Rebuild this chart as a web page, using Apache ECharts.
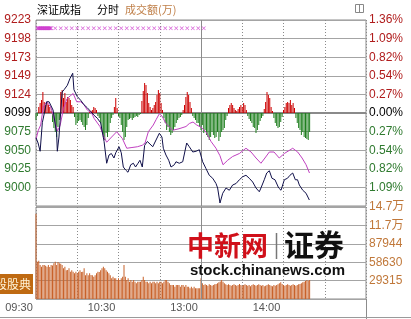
<!DOCTYPE html>
<html><head><meta charset="utf-8">
<script src="https://cdn.jsdelivr.net/npm/echarts@6/dist/echarts.min.js"></script>
<style>html,body{margin:0;padding:0;background:#fff}#c{width:411px;height:319px}</style>
</head><body><div id="c"></div>
<script>
// ---- data ----
const PREV_CLOSE = 9099;           // 0.00% line
const leftTicks  = ['', '9000','9025','9050','9075','9099','9124','9149','9173','9198','9223'];
const pctTicks   = ['', '1.09%','0.82%','0.54%','0.27%','0.00%','0.27%','0.54%','0.82%','1.09%','1.36%'];
const volTicks   = ['', '29315','58630','87944','11.7万','14.7万'];
const timeLabels = {0:'09:30', 60:'10:30', 120:'13:00', 180:'14:00'};

// index line: [minute since 09:30 (lunch removed), value]
const priceLine = [[0,9066],[1.5,9059],[3,9048],[4.6,9086],[7.8,9114],[9.5,9114],[12.4,9103],[15,9072],[15.5,9048],[16.7,9067],
 [19,9127],[20.4,9130],[22.8,9136],[24.7,9145],[26.7,9152],[27.6,9130],[30,9121],[32.5,9116],[34.9,9110],[37.3,9106],
 [39.8,9101],[42.2,9096],[44.6,9092],[47,9086],[49.5,9061],[51.4,9032],[53.1,9043],[54.8,9045],[56.7,9039],[58,9046],
 [60.4,9054],[62,9046],[63.5,9027],[65.2,9023],[66.9,9020],[68.9,9030],[70.8,9032],[72.4,9027],[74.2,9032],[75.6,9036],
 [77.3,9027],[79,9056],[81,9061],[82.4,9059],[84.9,9054],[87.3,9063],[89.7,9072],[91.6,9067],[92.6,9052],[94.5,9043],
 [96.5,9036],[98.2,9027],[100.6,9030],[101.8,9034],[104.2,9032],[106.7,9034],[108,9036],[109.6,9059],[111.5,9054],[114,9047],
 [116.4,9048],[118.8,9050],[121.2,9034],[123.6,9025],[126,9016],[128.5,9012],[130.9,9005],[132.1,8999],[133.8,8979],[135.8,8992],
 [138.2,8999],[140.6,8996],[143,9003],[145.5,9005],[147.9,9010],[150.3,9014],[152.7,9016],[155.1,9012],[157.6,9007],[160,8999],
 [162.4,8994],[163.6,8999],[166,9010],[167.8,9019],[169.7,9022],[171.6,9012],[173.8,9010],[176.5,8999],[178.2,8996],[180.6,9010],
 [182.9,9012],[184.7,9016],[186.7,9019],[188.6,9010],[190.2,9010],[191.5,9003],[194,8996],[196.4,8992],[198.8,8983]];

// average line
const avgLine = [[0,9064],[1.7,9076],[3.4,9083],[5.3,9107],[7.8,9114],[10.7,9107],[13.1,9092],[15.6,9075],[17.5,9082],[20,9105],
 [22.5,9118],[25,9122],[27,9125],[29.6,9114],[32.5,9114],[34.9,9110],[37.3,9103],[40.5,9099],[42.2,9092],[46.5,9081],
 [49.5,9067],[51.4,9060],[55,9067],[58.7,9074],[62.8,9065],[66,9052],[69.8,9053],[73.7,9054],[77.3,9056],[79.3,9059],
 [81.7,9074],[85.3,9083],[87.3,9090],[89.7,9098],[91.6,9095],[94.5,9085],[99.4,9076],[104,9078],[109.1,9081],[111.5,9085],
 [114.2,9087],[116.9,9083],[120,9080],[123.6,9074],[127.3,9061],[130.9,9052],[133.8,9042],[136,9030],[139.4,9036],[143,9041],
 [147.9,9045],[152.7,9052],[156.4,9047],[160,9039],[163.6,9032],[166.5,9039],[169.7,9047],[173.1,9047],[176.9,9039],[180.6,9045],
 [186.7,9052],[190.3,9047],[193.5,9039],[196.4,9030],[198.9,9019]];

// red / green strength bars, one per minute (relative units, +-93 full scale)
const leadDiff = [
 -7,-3,6,10,13,21,11,8,10,8, 6,2,-9,-15,-19,-24,-14,-7,21,23,
 15,20,11,16,15,13,8,6,-4,-12, -10,-8,-7,-9,-12,-14,-17,-12,-5,1,
 2,3,6,5,3,-3,-5,-10,-19,-24, -27,-20,-24,-19,-10,-5,-2,6,15,5,
 -3,-5,-12,-19,-27,-24,-14,-7,-6,-5, -7,-5,-4,-3,-4,-2,-1,12,22,30,
 28,20,10,6,3,5,8,11,18,23, 20,10,3,-5,-10,-17,-14,-19,-22,-20,
 -17,-14,-10,-7,-5,-4,-2,3,8,16, 21,18,11,5,-3,-5,-7,-10,-10,-14,
 -17,-12,-20,-17,-22,-24,-27,-24,-19,-22, -25,-24,-19,-28,-24,-19,-17,-15,-7,-3,
 5,8,10,8,5,3,2,4,6,8, 6,10,8,3,-3,-6,-8,-10,-14,-15,
 -20,-17,-12,-8,-5,-3,4,11,21,18, 15,6,2,-5,-10,-13,-15,-14,-9,-4,
 3,6,10,11,10,13,8,10,5,-5, -10,-15,-17,-22,-19,-24,-25,-26,-27,-19];
const LEAD_RANGE = 93;

// turnover per minute
const volume = [
 136000,59500,61000,54200,51500,54200,54000,53000,51500,54000,
 51000,54000,53500,56800,59500,54000,59000,57000,56000,54000,
 48900,51500,46000,46200,49000,43500,46000,43500,41000,43500,
 41000,43500,46000,43000,43500,49000,38000,41000,38000,41000,
 38200,38000,35600,38000,41000,43500,43000,46000,49000,51500,
 49000,46000,43500,41000,38000,33000,35600,33000,33000,30300,
 33000,30300,32900,35600,54000,35600,30300,32900,27600,30300,
 27600,30300,27600,25000,27600,27600,27600,30300,35600,30300,
 27600,27600,25000,27600,25000,27600,27600,25000,27600,25000,
 27600,27600,25000,27600,30300,30300,27600,25000,22300,22300,
 22300,19600,22300,22300,22300,19600,22300,22300,19600,22300,
 19600,19600,17000,19600,17000,19600,17000,17000,17000,17000,
 33000,25000,22300,23500,22300,21000,23500,22300,21000,22300,
 23500,24000,25000,26500,28000,30300,27600,25000,23500,22300,
 23500,22300,21000,22300,23500,22300,21000,22300,24000,22300,
 21000,22300,23500,22300,21000,22300,20500,22300,23500,22300,
 21000,22300,23500,22300,21000,22300,20500,21000,22300,23500,
 22300,21000,20500,22300,21000,22300,23500,25000,26500,24000,
 22300,21000,22300,23500,22300,21000,22300,23500,22300,21000,
 22300,23500,24000,25000,26500,27600,28500,30300,29000,30300];
const VOL_MAX = 146574, VOL_STEP = 29314.8;

// magenta cross markers row
const markMinutes = [1,1.5,2,2.5,3,3.5,4,4.5,5,5.5,6,6.5,7,7.5,8,8.5,9,9.5,10,10.5,11,
 14,18,22,26,30,34,38,42,46,50,54,58,62,66,70,74,78,82,86,90,94,98,102,106,110,114,118,122];
const MARK_LEVEL = 9212;

// ---- chart ----
const FONT = '"Liberation Sans", Arial, "Noto Sans CJK SC", sans-serif';
const RED = '#b01c1c', GREEN = '#2f7a2f', ORANGE = '#c0783a';
const chart = echarts.init(document.getElementById('c'), null, {renderer:'canvas'});
const crossPath = 'path://M0,1L1,0L5,4L9,0L10,1L6,5L10,9L9,10L5,6L1,10L0,9L4,5Z';

const xBase = {type:'value', min:0, max:240, interval:30,
  axisLine:{show:false}, axisTick:{show:false},
  splitLine:{show:true, lineStyle:{color:'#8a8a8a', type:[1,2], width:1}}};

chart.setOption({
  animation:false,
  grid:[
    {left:36, top:20, width:330, height:186, show:true, borderColor:'#8c8c8c', borderWidth:1, backgroundColor:'transparent'},
    {left:36, top:207, width:330, height:92, show:true, borderColor:'#8c8c8c', borderWidth:1, backgroundColor:'transparent'}
  ],
  xAxis:[
    Object.assign({}, xBase, {gridIndex:0, axisLabel:{show:false}}),
    Object.assign({}, xBase, {gridIndex:1, axisLabel:{show:true, margin:3, fontSize:11, color:'#555', fontFamily:FONT,
      padding:[0,34,0,0], align:'center', showMinLabel:true, showMaxLabel:true,
      formatter:v => timeLabels[v] || ''}})
  ],
  yAxis:[
    {type:'value', gridIndex:0, position:'left', min:-124, max:124, interval:24.8,
     axisLine:{show:false}, axisTick:{show:false},
     splitLine:{show:true, lineStyle:{color:'#a4a4a4', width:1}},
     axisLabel:{margin:5, fontSize:12, fontFamily:FONT, showMinLabel:true, showMaxLabel:true,
       formatter:(v)=>leftTicks[Math.round(v/24.8)+5] || '',
       color:(v)=> v>0.01 ? RED : (v<-0.01 ? GREEN : '#000')}},
    {type:'value', gridIndex:0, position:'right', min:-124, max:124, interval:24.8,
     axisLine:{show:false}, axisTick:{show:false}, splitLine:{show:false},
     axisLabel:{margin:3, fontSize:12, fontFamily:FONT, showMinLabel:true, showMaxLabel:true,
       formatter:(v)=>pctTicks[Math.round(v/24.8)+5] || '',
       color:(v)=> v>0.01 ? RED : (v<-0.01 ? GREEN : '#000')}},
    {type:'value', gridIndex:0, min:-LEAD_RANGE, max:LEAD_RANGE, show:false},
    {type:'value', gridIndex:1, position:'left', min:0, max:VOL_MAX, interval:VOL_STEP,
     axisLine:{show:false}, axisTick:{show:false}, axisLabel:{show:false},
     splitLine:{show:true, lineStyle:{color:'#a4a4a4', width:1}}},
    {type:'value', gridIndex:1, position:'right', min:0, max:VOL_MAX, interval:VOL_STEP,
     axisLine:{show:false}, axisTick:{show:false}, splitLine:{show:false},
     axisLabel:{margin:3, fontSize:12, fontFamily:FONT, color:ORANGE, showMinLabel:true, showMaxLabel:true,
       formatter:(v)=>volTicks[Math.round(v/VOL_STEP)] || ''}}
  ],
  series:[
    {type:'bar', xAxisIndex:0, yAxisIndex:2, barWidth:1, z:2,
     data:leadDiff.map((v,i)=>[i,v]),
     itemStyle:{color:p=> p.value[1]>=0 ? '#cc0000' : '#1f7f1f'}},
    {type:'line', xAxisIndex:0, yAxisIndex:0, z:4, symbol:'none', silent:true,
     data:avgLine.map(p=>[p[0], p[1]-PREV_CLOSE]),
     lineStyle:{color:'#c040c0', width:1}},
    {type:'line', xAxisIndex:0, yAxisIndex:0, z:5, symbol:'none', silent:true,
     data:priceLine.map(p=>[p[0], p[1]-PREV_CLOSE]),
     lineStyle:{color:'#10104a', width:1},
     markLine:{silent:true, symbol:['none','none'], label:{show:false}, z:1,
       data:[
         {xAxis:120, lineStyle:{color:'#8c8c8c', type:'solid', width:1}},
         {yAxis:0, lineStyle:{color:'#8a8a8a', type:'solid', width:2}}
       ]}},
    {type:'scatter', xAxisIndex:0, yAxisIndex:0, z:6, silent:true,
     symbol:crossPath, symbolSize:4,
     data:markMinutes.map(m=>[m, MARK_LEVEL-PREV_CLOSE]),
     itemStyle:{color:'#cc33cc'}},
    {type:'bar', xAxisIndex:1, yAxisIndex:3, barWidth:1, z:2,
     data:volume.map((v,i)=>[i,v]),
     itemStyle:{color:'#c8622a'},
     markLine:{silent:true, symbol:['none','none'], label:{show:false},
       data:[{xAxis:120, lineStyle:{color:'#8c8c8c', type:'solid', width:1}}]}}
  ],
  graphic:[
    {type:'text', left:37, top:4, style:{text:'深证成指', font:'11px "Noto Sans CJK SC"', fill:'#000'}},
    {type:'text', left:97, top:4, style:{text:'分时', font:'11px "Noto Sans CJK SC"', fill:'#000'}},
    {type:'text', left:125, top:4, style:{text:'成交额(万)', font:'11px "Noto Sans CJK SC"', fill:'#c0804a'}},
    {type:'rect', shape:{x:355.5, y:4.5, width:8, height:8}, style:{fill:'#fff', stroke:'#888', lineWidth:1}},
    {type:'line', shape:{x1:359.5, y1:4.5, x2:359.5, y2:12.5}, style:{stroke:'#888', lineWidth:1}},
    // bottom strip
    {type:'line', shape:{x1:366.5, y1:299, x2:366.5, y2:319}, style:{stroke:'#8c8c8c', lineWidth:1}},
    {type:'line', shape:{x1:0, y1:317.5, x2:411, y2:317.5}, style:{stroke:'#9a9a9a', lineWidth:1}},
    // badge
    {type:'rect', shape:{x:0, y:274, width:33, height:20}, style:{fill:'#bf6a12'}},
    {type:'text', x:31, y:284, style:{text:'段股典', font:'12px "Noto Sans CJK SC"', fill:'#fff4d8', align:'right', verticalAlign:'middle'}},
    // watermark
    {type:'text', x:187, y:246, z:100, style:{text:'中新网', font:'bold 27px "Noto Sans CJK SC"', fill:'#d0101a', verticalAlign:'middle'}},
    {type:'line', z:100, shape:{x1:276.5, y1:233, x2:276.5, y2:259}, style:{stroke:'#777', lineWidth:1.5}},
    {type:'text', x:284, y:245, z:100, style:{text:'证券', font:'bold 30px "Noto Sans CJK SC"', fill:'#111', verticalAlign:'middle'}},
    {type:'text', x:190, y:271, z:100, style:{text:'stock.chinanews.com', font:'bold 15px "Liberation Sans"', fill:'#111', verticalAlign:'middle'}}
  ]
});
</script>
</body></html>
